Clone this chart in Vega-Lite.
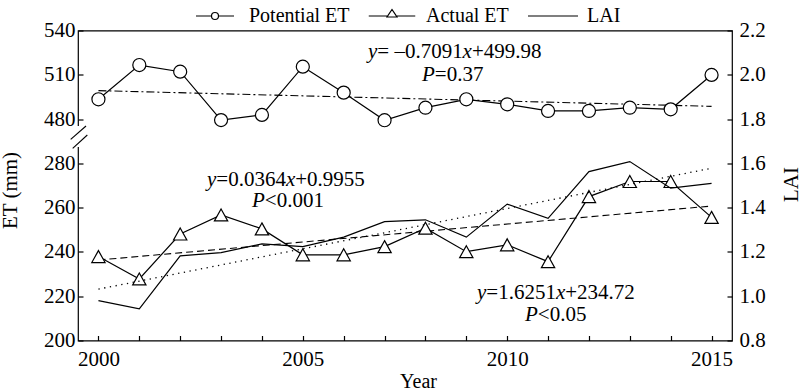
{
  "$schema": "https://vega.github.io/schema/vega-lite/v6.json",
  "width": 654,
  "height": 310,
  "autosize": "none",
  "padding": {"left": 78, "top": 30.5, "right": 68, "bottom": 49.5},
  "background": "white",
  "config": {
    "font": "Liberation Serif",
    "view": {"stroke": "black", "strokeWidth": 1.2},
    "axis": {
      "grid": false,
      "domain": false,
      "labelFont": "Liberation Serif",
      "labelFontSize": 21,
      "labelColor": "black",
      "tickColor": "black",
      "tickWidth": 1.2,
      "tickSize": -5,
      "titleFont": "Liberation Serif",
      "titleFontSize": 21,
      "titleFontWeight": "normal",
      "titleColor": "black"
    },
    "text": {"font": "Liberation Serif", "fontSize": 21, "color": "black"}
  },
  "datasets": {
    "et": [
      {"year": 2000, "series": "Potential ET", "value": 493.4},
      {"year": 2001, "series": "Potential ET", "value": 516.6},
      {"year": 2002, "series": "Potential ET", "value": 512.1},
      {"year": 2003, "series": "Potential ET", "value": 475.5},
      {"year": 2004, "series": "Potential ET", "value": 482.8},
      {"year": 2005, "series": "Potential ET", "value": 515.5},
      {"year": 2006, "series": "Potential ET", "value": 497.9},
      {"year": 2007, "series": "Potential ET", "value": 474.8},
      {"year": 2008, "series": "Potential ET", "value": 487.7},
      {"year": 2009, "series": "Potential ET", "value": 493.4},
      {"year": 2010, "series": "Potential ET", "value": 490.0},
      {"year": 2011, "series": "Potential ET", "value": 485.5},
      {"year": 2012, "series": "Potential ET", "value": 485.5},
      {"year": 2013, "series": "Potential ET", "value": 487.7},
      {"year": 2014, "series": "Potential ET", "value": 486.6},
      {"year": 2015, "series": "Potential ET", "value": 509.9},
      {"year": 2000, "series": "Actual ET", "value": 237.9},
      {"year": 2001, "series": "Actual ET", "value": 227.8},
      {"year": 2002, "series": "Actual ET", "value": 248.1},
      {"year": 2003, "series": "Actual ET", "value": 256.7},
      {"year": 2004, "series": "Actual ET", "value": 250.4},
      {"year": 2005, "series": "Actual ET", "value": 238.7},
      {"year": 2006, "series": "Actual ET", "value": 238.7},
      {"year": 2007, "series": "Actual ET", "value": 242.4},
      {"year": 2008, "series": "Actual ET", "value": 250.7},
      {"year": 2009, "series": "Actual ET", "value": 240.1},
      {"year": 2010, "series": "Actual ET", "value": 243.2},
      {"year": 2011, "series": "Actual ET", "value": 235.6},
      {"year": 2012, "series": "Actual ET", "value": 265.0},
      {"year": 2013, "series": "Actual ET", "value": 271.8},
      {"year": 2014, "series": "Actual ET", "value": 271.8},
      {"year": 2015, "series": "Actual ET", "value": 255.6}
    ],
    "lai": [
      {"year": 2000, "lai": 0.980},
      {"year": 2001, "lai": 0.943},
      {"year": 2002, "lai": 1.182},
      {"year": 2003, "lai": 1.197},
      {"year": 2004, "lai": 1.236},
      {"year": 2005, "lai": 1.224},
      {"year": 2006, "lai": 1.267},
      {"year": 2007, "lai": 1.337},
      {"year": 2008, "lai": 1.345},
      {"year": 2009, "lai": 1.267},
      {"year": 2010, "lai": 1.416},
      {"year": 2011, "lai": 1.352},
      {"year": 2012, "lai": 1.563},
      {"year": 2013, "lai": 1.608},
      {"year": 2014, "lai": 1.488},
      {"year": 2015, "lai": 1.510}
    ],
    "trend": [
      {"series": "Potential ET", "year": 2000, "value": 499.27},
      {"series": "Potential ET", "year": 2015, "value": 488.63},
      {"series": "Actual ET", "year": 2000, "value": 236.35},
      {"series": "Actual ET", "year": 2015, "value": 260.72}
    ],
    "laitrend": [
      {"year": 2000, "lai": 1.032},
      {"year": 2015, "lai": 1.578}
    ],
    "notes": [
      {"year": 2006.595, "lai": 2.103, "text": "y", "kind": "var"},
      {"year": 2006.823, "lai": 2.103, "text": "= –0.7091", "kind": "num"},
      {"year": 2008.909, "lai": 2.103, "text": "x", "kind": "var"},
      {"year": 2009.137, "lai": 2.103, "text": "+499.98", "kind": "num"},
      {"year": 2007.916, "lai": 1.999, "text": "P", "kind": "var"},
      {"year": 2008.229, "lai": 1.999, "text": "=0.37", "kind": "num"},
      {"year": 2002.656, "lai": 1.525, "text": "y", "kind": "var"},
      {"year": 2002.884, "lai": 1.525, "text": "=0.0364", "kind": "num"},
      {"year": 2004.586, "lai": 1.525, "text": "x", "kind": "var"},
      {"year": 2004.814, "lai": 1.525, "text": "+0.9955", "kind": "num"},
      {"year": 2003.757, "lai": 1.430, "text": "P", "kind": "var"},
      {"year": 2004.070, "lai": 1.430, "text": "<0.001", "kind": "num"},
      {"year": 2009.261, "lai": 1.015, "text": "y", "kind": "var"},
      {"year": 2009.489, "lai": 1.015, "text": "=1.6251", "kind": "num"},
      {"year": 2011.192, "lai": 1.015, "text": "x", "kind": "var"},
      {"year": 2011.419, "lai": 1.015, "text": "+234.72", "kind": "num"},
      {"year": 2010.436, "lai": 0.916, "text": "P", "kind": "var"},
      {"year": 2010.749, "lai": 0.916, "text": "<0.05", "kind": "num"}
    ],
    "breaks": [
      {"part": "gap", "year": 1999.5, "year2": 1999.5, "value": 448.7, "value2": 353.9},
      {"part": "slash", "year": 1999.321, "year2": 1999.696, "value": 388.6, "value2": 448.7},
      {"part": "slash", "year": 1999.370, "year2": 1999.728, "value": 348.0, "value2": 408.1}
    ]
  },
  "encoding": {
    "x": {
      "field": "year",
      "type": "quantitative",
      "scale": {"domain": [1999.5, 2015.5], "nice": false, "zero": false},
      "axis": {
        "orient": "bottom",
        "values": [2000, 2001, 2002, 2003, 2004, 2005, 2006, 2007, 2008, 2009, 2010, 2011, 2012, 2013, 2014, 2015],
        "labelExpr": "datum.value % 5 === 0 ? datum.value : ''",
        "labelPadding": 13,
        "title": "Year",
        "titleFontSize": 20,
        "titleX": 340,
        "titleY": 46.5,
        "titleBaseline": "alphabetic",
        "titleAlign": "center"
      }
    }
  },
  "layer": [
    {
      "encoding": {
        "y": {
          "field": "value",
          "type": "quantitative",
          "scale": {"domain": [200, 280, 480, 540], "range": [310, 132.86, 88.57, 0], "nice": false, "zero": false},
          "axis": {
            "orient": "left",
            "values": [200, 220, 240, 260, 280, 480, 510, 540],
            "labelPadding": 8,
            "title": "ET (mm)",
            "titleAngle": 270,
            "titleX": -61.5,
            "titleY": 159.5,
            "titleBaseline": "alphabetic",
            "titleAlign": "center"
          }
        }
      },
      "layer": [
        {
          "data": {"name": "trend"},
          "transform": [{"filter": "datum.series === 'Potential ET'"}],
          "mark": {"type": "line", "color": "black", "strokeWidth": 1.1, "strokeDash": [8, 3, 2, 3]}
        },
        {
          "data": {"name": "trend"},
          "transform": [{"filter": "datum.series === 'Actual ET'"}],
          "mark": {"type": "line", "color": "black", "strokeWidth": 1.1, "strokeDash": [7, 4]}
        },
        {
          "data": {"name": "et"},
          "transform": [{"filter": "datum.series === 'Potential ET'"}],
          "mark": {"type": "line", "color": "black", "strokeWidth": 1.2}
        },
        {
          "data": {"name": "et"},
          "transform": [{"filter": "datum.series === 'Actual ET'"}],
          "mark": {"type": "line", "color": "black", "strokeWidth": 1.2}
        },
        {
          "data": {"name": "et"},
          "transform": [{"filter": "datum.series === 'Potential ET'"}],
          "mark": {"type": "point", "shape": "circle", "filled": true, "fill": "white", "stroke": "black", "strokeWidth": 1.2, "size": 170, "opacity": 1}
        },
        {
          "data": {"name": "et"},
          "transform": [{"filter": "datum.series === 'Actual ET'"}],
          "mark": {"type": "point", "shape": "M0,-0.9L1,0.9L-1,0.9Z", "filled": true, "fill": "white", "stroke": "black", "strokeWidth": 1.2, "size": 177, "opacity": 1}
        },
        {
          "data": {"name": "et"},
          "transform": [{"filter": "datum.year < 0"}],
          "mark": {"type": "point", "filled": false, "color": "black", "strokeWidth": 1.2, "opacity": 1},
          "encoding": {
            "shape": {
              "field": "series",
              "type": "nominal",
              "scale": {
                "domain": ["Potential ET", "Actual ET", "LAI"],
                "range": [
                  "M-0.76,0L-0.14,0M0.14,0L0.76,0M0.14,0A0.14,0.14,0,1,1,-0.14,0A0.14,0.14,0,1,1,0.14,0Z",
                  "M-0.93,0L-0.2,0M0.2,0L0.93,0M-0.2,0.04L0.2,0.04L0,-0.26Z",
                  "M-1,0L1,0"
                ]
              },
              "legend": {
                "orient": "none",
                "legendX": 111,
                "legendY": -40.5,
                "direction": "horizontal",
                "columns": 3,
                "title": null,
                "padding": 0,
                "symbolSize": 2500,
                "symbolStrokeColor": "black",
                "symbolStrokeWidth": 1.2,
                "symbolOpacity": 1,
                "labelFont": "Liberation Serif",
                "labelFontSize": 20,
                "labelColor": "black",
                "labelOffset": 8,
                "columnPadding": 16,
                "encode": {
                  "symbols": {
                    "update": {
                      "stroke": {"value": "black"},
                      "fill": {"value": "white"},
                      "strokeWidth": {"value": 1.2},
                      "opacity": {"value": 1}
                    }
                  }
                }
              }
            }
          }
        },
        {
          "data": {"name": "breaks"},
          "transform": [{"filter": "datum.part === 'gap'"}],
          "mark": {"type": "rule", "color": "white", "strokeWidth": 4},
          "encoding": {
            "x2": {"field": "year2"},
            "y2": {"field": "value2"}
          }
        },
        {
          "data": {"name": "breaks"},
          "transform": [{"filter": "datum.part === 'slash'"}],
          "mark": {"type": "rule", "color": "black", "strokeWidth": 1.1},
          "encoding": {
            "x2": {"field": "year2"},
            "y2": {"field": "value2"}
          }
        }
      ]
    },
    {
      "encoding": {
        "y": {
          "field": "lai",
          "type": "quantitative",
          "scale": {"domain": [0.8, 2.2], "nice": false, "zero": false},
          "axis": {
            "orient": "right",
            "values": [0.8, 1.0, 1.2, 1.4, 1.6, 1.8, 2.0, 2.2],
            "format": ".1f",
            "labelPadding": 12,
            "title": "LAI",
            "titleAngle": 270,
            "titleX": 65,
            "titleY": 153.5,
            "titleBaseline": "alphabetic",
            "titleAlign": "center"
          }
        }
      },
      "layer": [
        {
          "data": {"name": "laitrend"},
          "mark": {"type": "line", "color": "black", "strokeWidth": 1.3, "strokeDash": [1.3, 4.5]}
        },
        {
          "data": {"name": "lai"},
          "mark": {"type": "line", "color": "black", "strokeWidth": 1.2}
        },
        {
          "data": {"name": "notes"},
          "transform": [{"filter": "datum.kind === 'var'"}],
          "mark": {"type": "text", "align": "left", "baseline": "middle", "fontStyle": "italic", "fontSize": 21},
          "encoding": {"text": {"field": "text"}}
        },
        {
          "data": {"name": "notes"},
          "transform": [{"filter": "datum.kind === 'num'"}],
          "mark": {"type": "text", "align": "left", "baseline": "middle", "fontSize": 21},
          "encoding": {"text": {"field": "text"}}
        }
      ]
    }
  ],
  "resolve": {"scale": {"y": "independent"}}
}
